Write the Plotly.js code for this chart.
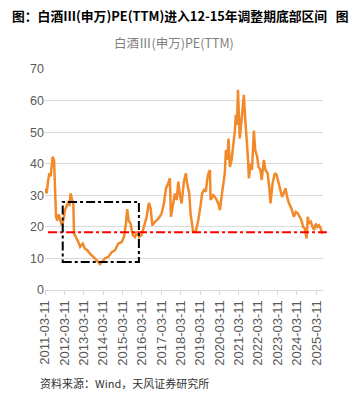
<!DOCTYPE html>
<html><head><meta charset="utf-8">
<script src="https://cdn.plot.ly/plotly-3.0.1.min.js"></script>
<style>body{margin:0;background:#fff;}#c{width:356px;height:396px;}</style>
</head><body><div id="c"></div>
<script>
const dates = ["2011-03-23","2011-04-11","2011-05-11","2011-06-01","2011-06-26","2011-07-14","2011-08-01","2011-08-29","2011-09-17","2011-10-05","2011-10-29","2011-11-26","2011-12-20","2012-01-20","2012-02-20","2012-03-23","2012-04-23","2012-05-23","2012-06-11","2012-07-08","2012-08-01","2012-08-26","2012-09-08","2012-10-17","2012-11-29","2013-01-01","2013-02-20","2013-04-01","2013-05-17","2013-07-05","2013-09-08","2013-11-11","2014-01-11","2014-02-14","2014-04-14","2014-06-17","2014-08-20","2014-10-20","2014-12-20","2015-02-23","2015-04-08","2015-05-14","2015-06-08","2015-07-05","2015-08-11","2015-09-20","2015-11-01","2015-12-01","2016-01-20","2016-03-05","2016-04-17","2016-06-08","2016-07-20","2016-08-23","2016-09-23","2016-11-11","2017-01-14","2017-03-17","2017-04-29","2017-06-08","2017-07-20","2017-08-20","2017-09-08","2017-10-23","2017-11-23","2017-12-26","2018-01-26","2018-02-26","2018-03-29","2018-05-11","2018-06-17","2018-07-11","2018-08-20","2018-09-14","2018-10-08","2018-11-01","2018-12-23","2019-02-05","2019-03-20","2019-04-20","2019-05-26","2019-06-29","2019-07-23","2019-08-17","2019-09-14","2019-09-26","2019-11-14","2020-01-05","2020-02-17","2020-03-20","2020-04-20","2020-05-20","2020-06-20","2020-07-11","2020-08-05","2020-08-29","2020-09-23","2020-10-26","2020-11-26","2020-12-26","2021-01-14","2021-02-05","2021-02-23","2021-03-11","2021-03-29","2021-04-26","2021-05-20","2021-06-14","2021-07-08","2021-08-05","2021-08-29","2021-09-17","2021-10-20","2021-11-14","2021-12-20","2022-01-14","2022-02-20","2022-03-17","2022-04-23","2022-05-17","2022-06-26","2022-07-26","2022-09-05","2022-10-05","2022-10-29","2022-12-08","2023-01-20","2023-02-20","2023-03-23","2023-05-05","2023-06-05","2023-07-05","2023-08-08","2023-09-08","2023-10-14","2023-11-29","2024-01-11","2024-02-20","2024-04-01","2024-05-01","2024-06-05","2024-07-05","2024-08-05","2024-09-08","2024-10-01","2024-10-26","2024-11-29","2024-12-29","2025-01-29","2025-03-01","2025-04-01","2025-05-01","2025-06-01","2025-06-26","2025-07-10"];
const pe = [32.2,30.6,34.8,37,36,39,42.2,41,30.6,23.2,22,24,22.5,20.5,22,25.3,26.6,28,26.6,30.6,28.5,27.4,17.9,16.8,15.2,13.7,14.7,13.1,12.6,11.5,10.5,9.4,8.2,8.9,10,10.5,12,12.6,14.7,15.2,16.8,21,25.6,22,21,17.4,16.8,18.5,16.8,17.4,20,23.2,27.6,25.8,20.5,21.6,22.6,24.2,27.4,32.2,33.8,35.4,23.2,28.5,30.6,28.5,34.3,30,27.4,34.3,37,33.8,30.6,24.2,21,18.4,18.7,22,26.6,30.6,31.7,31.2,34.8,37,38,28.5,30,29,27.4,25.3,29.5,32.7,37,44.3,41.2,48,39,41.2,45,50.2,55.5,52.3,63.4,51.8,48,52.8,57,61.8,54.5,48.6,42.2,35.4,40,38,50.5,44.3,42.2,39,38,34.8,41.2,38,37,32.7,27.4,33.8,37,36.5,34.3,31.2,29.5,30.6,32.2,29.5,27.4,25.8,23.2,24.7,24.2,23.2,22,20,19.5,16.3,23.2,21,21.6,20,19,21,20,20.5,19.5,17.9,18.4];
const tickDates = ["2011-03-11","2012-03-11","2013-03-11","2014-03-11","2015-03-11","2016-03-11","2017-03-11","2018-03-11","2019-03-11","2020-03-11","2021-03-11","2022-03-11","2023-03-11","2024-03-11","2025-03-11"];
const bottomLevel = 18.3;
const boxStart = "2012-02-08", boxEnd = "2016-01-14", boxLow = 8.9, boxHigh = 27.9;

const data = [{x: dates, y: pe, type: 'scatter', mode: 'lines',
  line: {color: '#F28A2A', width: 2.5}, hoverinfo: 'skip'}];
const layout = {
  width: 356, height: 396,
  margin: {l: 45, r: 33, t: 69, b: 106},
  paper_bgcolor: '#fff', plot_bgcolor: '#fff',
  showlegend: false,
  font: {family: 'Liberation Sans, Arial, sans-serif', color: '#595959'},
  xaxis: {type: 'date', range: ['2011-03-11', '2025-07-15'],
    tickmode: 'array', tickvals: tickDates, ticktext: tickDates,
    tickangle: -90, tickfont: {size: 13, color: '#595959'},
    ticks: 'outside', ticklen: 4, tickcolor: '#d9d9d9',
    showgrid: false, showline: true, linecolor: '#d9d9d9', linewidth: 1, zeroline: false},
  yaxis: {range: [0, 70], dtick: 10, tickfont: {size: 12.5, color: '#595959'},
    showgrid: true, gridcolor: '#d9d9d9', gridwidth: 1, zeroline: false, ticks: '', ticklen: 0,
    showline: false},
  shapes: [
    {type: 'line', xref: 'paper', yref: 'y', x0: 0.011, x1: 1.014, y0: bottomLevel, y1: bottomLevel,
     line: {color: '#FF0000', width: 2, dash: 'dashdot'}},
    {type: 'rect', xref: 'x', yref: 'y', x0: boxStart, x1: boxEnd, y0: boxLow, y1: boxHigh,
     line: {color: '#000000', width: 2, dash: 'dashdot'}}
  ],
  annotations: [
    {text: '<b>图：白酒Ⅲ(申万)PE(TTM)进入12-15年调整期底部区间   图</b>', xref: 'paper', yref: 'paper',
     x: -0.125, xanchor: 'left', y: 1 + (69 - 16) / 220.7, yanchor: 'middle', showarrow: false,
     font: {family: 'Noto Sans CJK SC', size: 12.8, color: '#000'}},
    {text: '白酒Ⅲ(申万)PE(TTM)', xref: 'paper', yref: 'paper',
     x: (174 - 45) / 278, xanchor: 'center', y: 1 + (69 - 43) / 220.7, yanchor: 'middle', showarrow: false,
     font: {family: 'Noto Sans CJK SC', size: 12.5, color: '#7f7f7f'}},
    {text: '资料来源：Wind，天风证券研究所', xref: 'paper', yref: 'paper',
     x: (38 - 45) / 278, xanchor: 'left', y: -(383 - 289.7) / 220.7, yanchor: 'middle', showarrow: false,
     font: {family: 'Noto Sans CJK SC', size: 11, color: '#333'}}
  ]
};
Plotly.newPlot('c', data, layout, {staticPlot: true, displayModeBar: false});
</script></body></html>
